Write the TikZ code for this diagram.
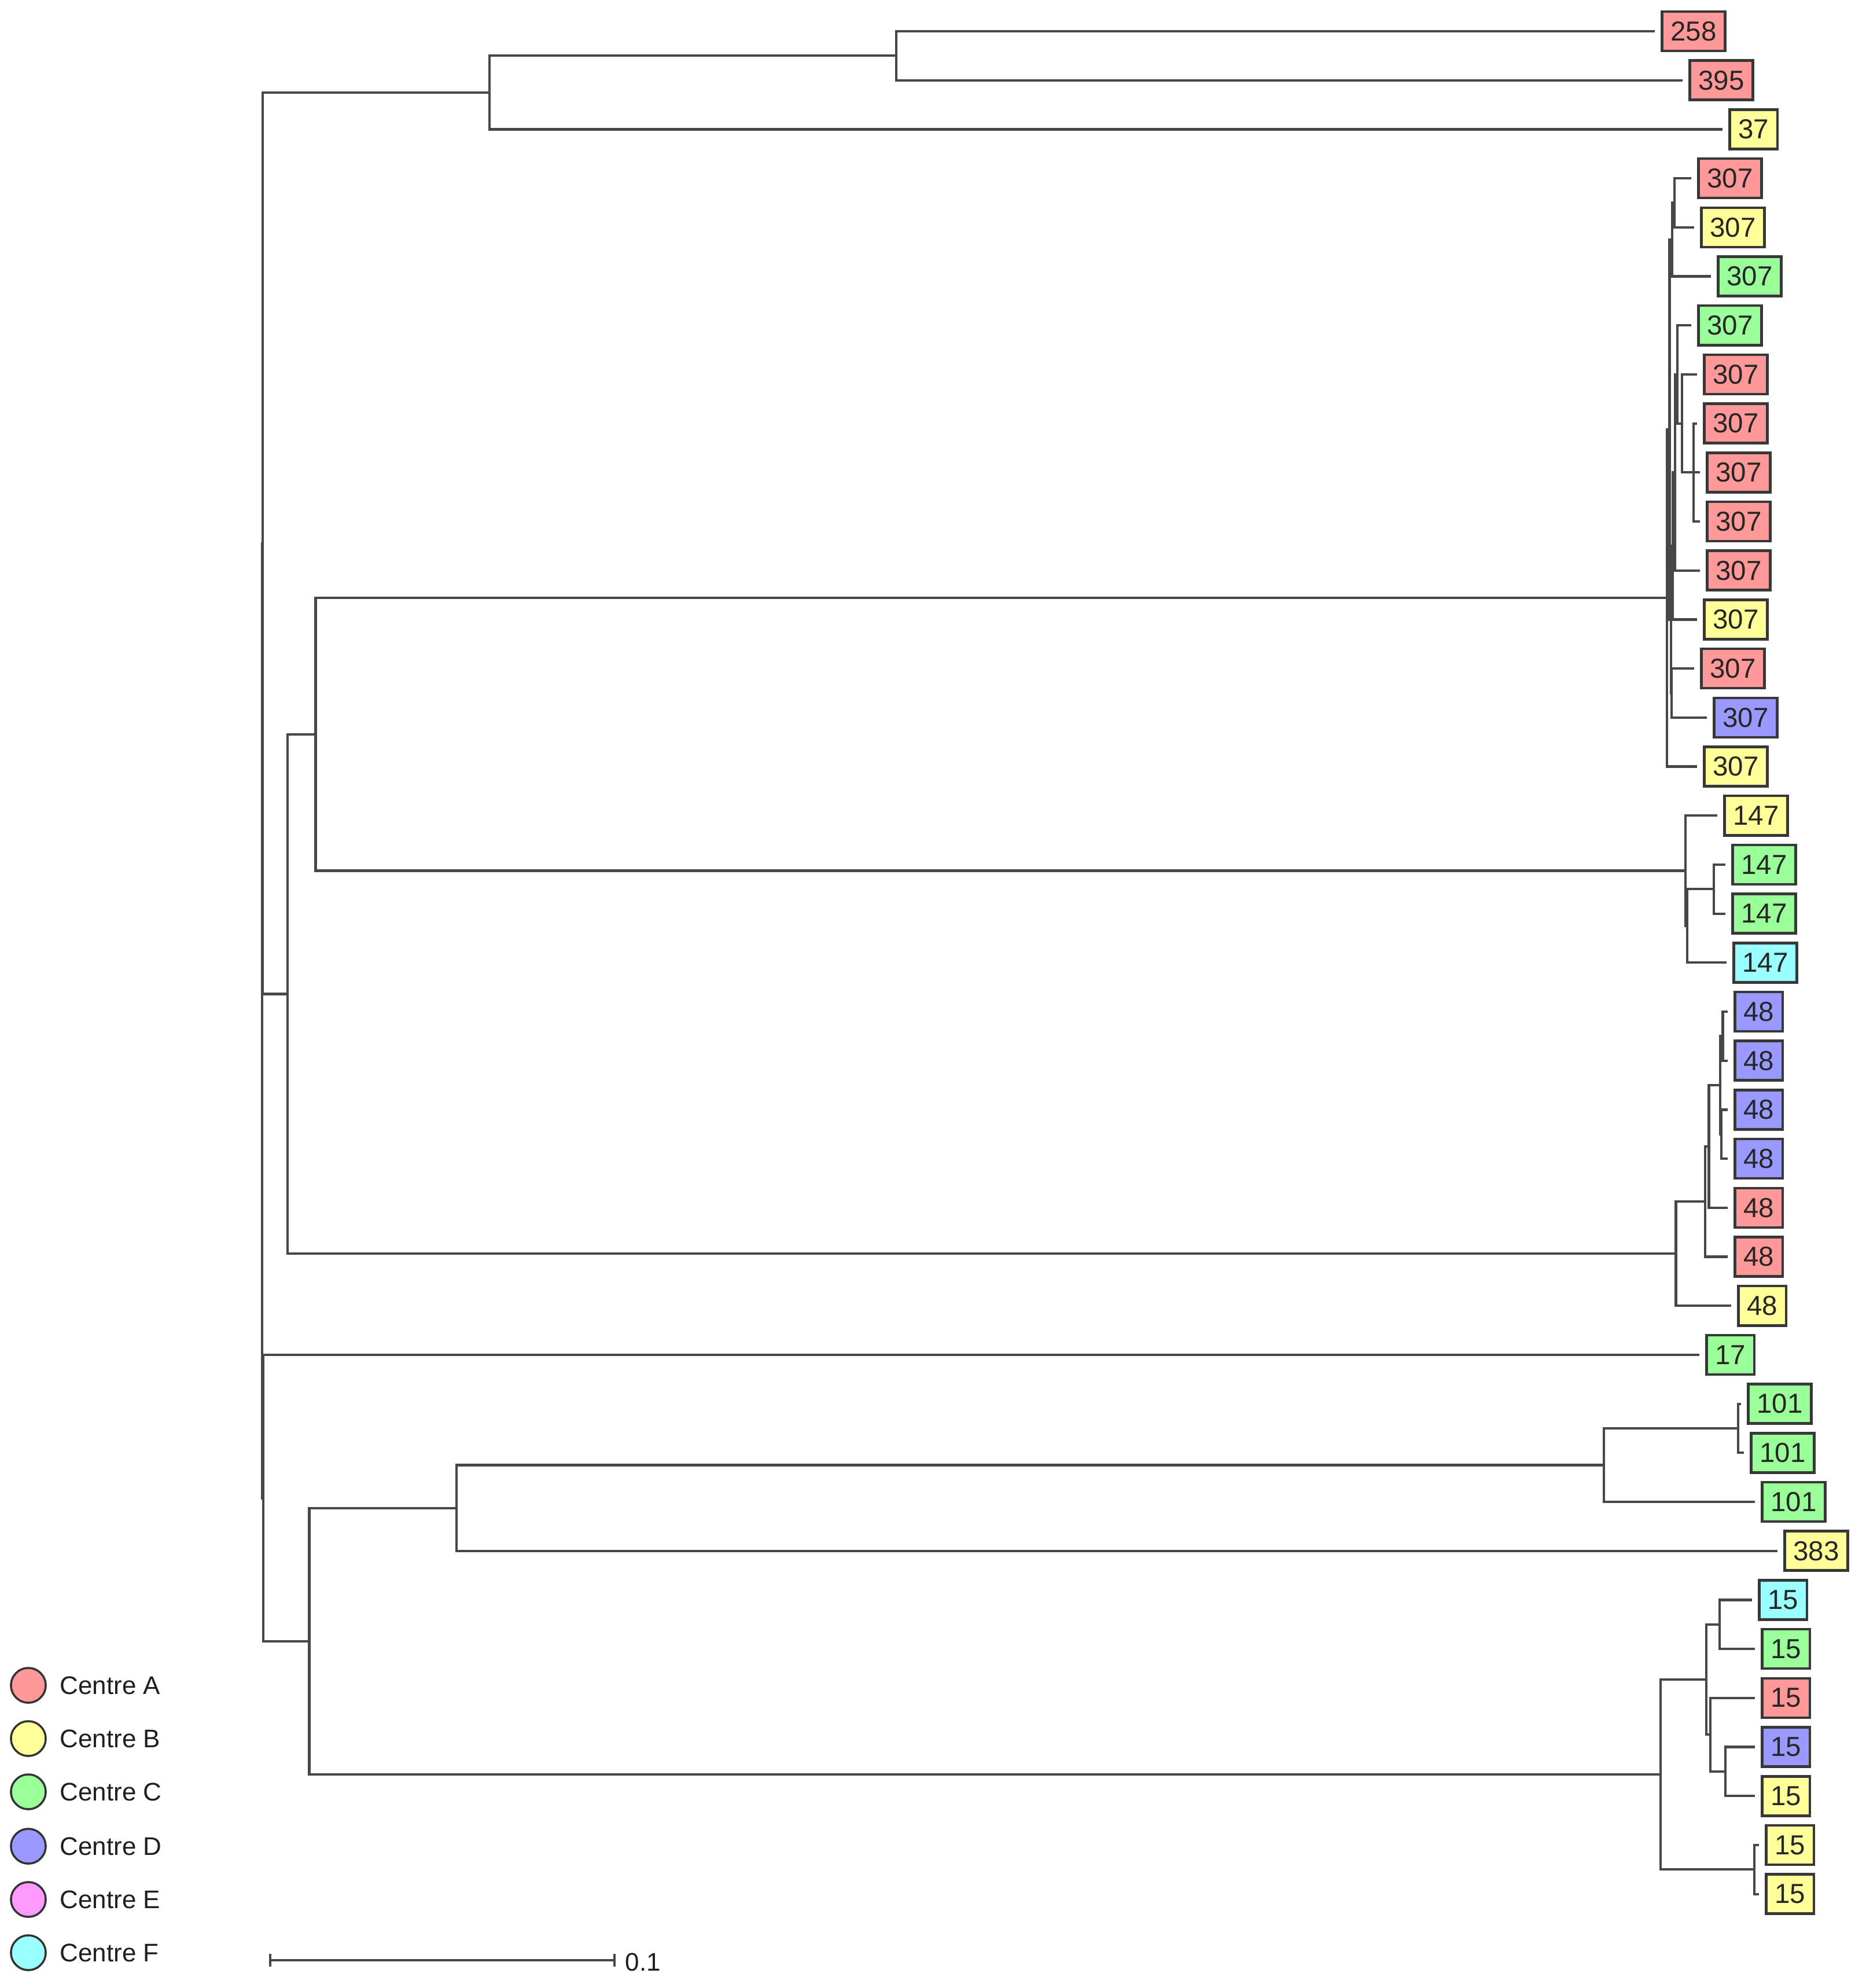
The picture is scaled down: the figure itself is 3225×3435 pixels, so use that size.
\documentclass[tikz,border=0pt]{standalone}
\usepackage{fontspec}
\setmainfont{Liberation Sans}
\definecolor{cA}{HTML}{FF9999}
\definecolor{cB}{HTML}{FFFF99}
\definecolor{cC}{HTML}{99FF99}
\definecolor{cD}{HTML}{9999FF}
\definecolor{cE}{HTML}{FF99FF}
\definecolor{cF}{HTML}{99FFFF}
\begin{document}
\begin{tikzpicture}[x=0.01cm,y=-0.01cm,
  br/.style={draw=black!72, line width=1.2pt},
  tip/.style={br, shorten >=0.1cm},
  lf/.style={draw=black!78, line width=1.3pt, anchor=west, minimum height=0.68cm,
    inner xsep=0.15cm, inner ysep=0pt, font=\fontsize{13.5}{16}\selectfont, text=black!85},
  key/.style={circle, draw=black!80, line width=1pt, minimum size=0.6cm, inner sep=0pt},
  keytxt/.style={anchor=west, inner sep=0pt, font=\fontsize{12.5}{15}\selectfont, text=black!88}]
\useasboundingbox (0,0) rectangle (3225,3435);
\fill[white] (0,0) rectangle (3225,3435);

% leaves
\node[lf, fill=cA] (l1) at (2870,54) {258};
\node[lf, fill=cA] (l2) at (2918,138.7) {395};
\node[lf, fill=cB] (l3) at (2987,223.4) {37};
\node[lf, fill=cA] (l4) at (2933,308.1) {307};
\node[lf, fill=cB] (l5) at (2938,392.8) {307};
\node[lf, fill=cC] (l6) at (2967,477.5) {307};
\node[lf, fill=cC] (l7) at (2933,562.2) {307};
\node[lf, fill=cA] (l8) at (2943,646.9) {307};
\node[lf, fill=cA] (l9) at (2943,731.6) {307};
\node[lf, fill=cA] (l10) at (2948,816.3) {307};
\node[lf, fill=cA] (l11) at (2948,901) {307};
\node[lf, fill=cA] (l12) at (2948,985.7) {307};
\node[lf, fill=cB] (l13) at (2943,1070.4) {307};
\node[lf, fill=cA] (l14) at (2938,1155.1) {307};
\node[lf, fill=cD] (l15) at (2960,1239.8) {307};
\node[lf, fill=cB] (l16) at (2943,1324.5) {307};
\node[lf, fill=cB] (l17) at (2978,1409.2) {147};
\node[lf, fill=cC] (l18) at (2992,1493.9) {147};
\node[lf, fill=cC] (l19) at (2992,1578.6) {147};
\node[lf, fill=cF] (l20) at (2994,1663.3) {147};
\node[lf, fill=cD] (l21) at (2996,1748) {48};
\node[lf, fill=cD] (l22) at (2996,1832.7) {48};
\node[lf, fill=cD] (l23) at (2996,1917.4) {48};
\node[lf, fill=cD] (l24) at (2996,2002.1) {48};
\node[lf, fill=cA] (l25) at (2996,2086.8) {48};
\node[lf, fill=cA] (l26) at (2996,2171.5) {48};
\node[lf, fill=cB] (l27) at (3002,2256.2) {48};
\node[lf, fill=cC] (l28) at (2947,2340.9) {17};
\node[lf, fill=cC] (l29) at (3019,2425.6) {101};
\node[lf, fill=cC] (l30) at (3024,2510.3) {101};
\node[lf, fill=cC] (l31) at (3043,2595) {101};
\node[lf, fill=cB] (l32) at (3082,2679.7) {383};
\node[lf, fill=cF] (l33) at (3038,2764.4) {15};
\node[lf, fill=cC] (l34) at (3043,2849.1) {15};
\node[lf, fill=cA] (l35) at (3043,2933.8) {15};
\node[lf, fill=cD] (l36) at (3043,3018.5) {15};
\node[lf, fill=cB] (l37) at (3043,3103.2) {15};
\node[lf, fill=cB] (l38) at (3050,3187.9) {15};
\node[lf, fill=cB] (l39) at (3050,3272.6) {15};

% internal nodes
\coordinate (nA1) at (1549,96.35);
\coordinate (nAa) at (846,159.9);
\coordinate (nS) at (2894,350.45);
\coordinate (nQ) at (2890,413.98);
\coordinate (nY) at (2927,816.3);
\coordinate (nX) at (2907,731.6);
\coordinate (nV) at (2899,646.9);
\coordinate (nU) at (2895,816.3);
\coordinate (nW) at (2891,943.35);
\coordinate (nT) at (2889,1197.45);
\coordinate (nR) at (2888,1070.4);
\coordinate (nP) at (2885.5,742.19);
\coordinate (nN) at (2881,1033.3);
\coordinate (nM) at (2962,1536.25);
\coordinate (nL) at (2916,1599.8);
\coordinate (nK) at (2913,1504.5);
\coordinate (nJ) at (2977.5,1790.35);
\coordinate (nI2) at (2975,1959.75);
\coordinate (nI) at (2973,1875.05);
\coordinate (nH) at (2953.5,1980.9);
\coordinate (nG) at (2947,2076.2);
\coordinate (nF) at (2896.5,2166.2);
\coordinate (nBn) at (545.5,1268.9);
\coordinate (nBm) at (497,1717.55);
\coordinate (nD3) at (3004,2467.95);
\coordinate (nD2) at (2771.6,2531.5);
\coordinate (nD1) at (788.8,2605.6);
\coordinate (nC) at (2972,2806.75);
\coordinate (nDd) at (2982,3060.85);
\coordinate (nE) at (2955.6,2997.3);
\coordinate (nAq) at (2949,2902);
\coordinate (nBq) at (3032,3230.25);
\coordinate (nFx) at (2870,3066.1);
\coordinate (nD0) at (534.6,2835.85);
\coordinate (nR0) at (454,938.7);
\coordinate (nZ2) at (455,2588.4);
\coordinate (nroot) at (453,1763.5);

% branches
\draw[br] (nroot) |- (nR0);
\draw[br] (nroot) |- (nZ2);
\draw[br] (nR0) |- (nAa);
\draw[br] (nR0) |- (nBm);
\draw[br] (nAa) |- (nA1);
\draw[tip] (nAa) |- (l3.west);
\draw[tip] (nA1) |- (l1.west);
\draw[tip] (nA1) |- (l2.west);
\draw[br] (nBm) |- (nBn);
\draw[br] (nBm) |- (nF);
\draw[br] (nBn) |- (nN);
\draw[br] (nBn) |- (nK);
\draw[br] (nN) |- (nP);
\draw[tip] (nN) |- (l16.west);
\draw[br] (nP) |- (nQ);
\draw[br] (nP) |- (nR);
\draw[br] (nQ) |- (nS);
\draw[tip] (nQ) |- (l6.west);
\draw[tip] (nS) |- (l4.west);
\draw[tip] (nS) |- (l5.west);
\draw[br] (nR) |- (nW);
\draw[br] (nR) |- (nT);
\draw[br] (nW) |- (nU);
\draw[tip] (nW) |- (l13.west);
\draw[br] (nU) |- (nV);
\draw[tip] (nU) |- (l12.west);
\draw[tip] (nV) |- (l7.west);
\draw[br] (nV) |- (nX);
\draw[tip] (nX) |- (l8.west);
\draw[br] (nX) |- (nY);
\draw[tip] (nY) |- (l9.west);
\draw[tip] (nY) |- (l10.west);
\draw[tip] (nY) |- (l11.west);
\draw[tip] (nT) |- (l14.west);
\draw[tip] (nT) |- (l15.west);
\draw[tip] (nK) |- (l17.west);
\draw[br] (nK) |- (nL);
\draw[br] (nL) |- (nM);
\draw[tip] (nL) |- (l20.west);
\draw[tip] (nM) |- (l18.west);
\draw[tip] (nM) |- (l19.west);
\draw[br] (nF) |- (nG);
\draw[tip] (nF) |- (l27.west);
\draw[br] (nG) |- (nH);
\draw[tip] (nG) |- (l26.west);
\draw[br] (nH) |- (nI);
\draw[tip] (nH) |- (l25.west);
\draw[br] (nI) |- (nJ);
\draw[br] (nI) |- (nI2);
\draw[tip] (nJ) |- (l21.west);
\draw[tip] (nJ) |- (l22.west);
\draw[tip] (nI2) |- (l23.west);
\draw[tip] (nI2) |- (l24.west);
\draw[tip] (nZ2) |- (l28.west);
\draw[br] (nZ2) |- (nD0);
\draw[br] (nD0) |- (nD1);
\draw[br] (nD0) |- (nFx);
\draw[br] (nD1) |- (nD2);
\draw[tip] (nD1) |- (l32.west);
\draw[br] (nD2) |- (nD3);
\draw[tip] (nD2) |- (l31.west);
\draw[tip] (nD3) |- (l29.west);
\draw[tip] (nD3) |- (l30.west);
\draw[br] (nFx) |- (nAq);
\draw[br] (nFx) |- (nBq);
\draw[br] (nAq) |- (nC);
\draw[br] (nAq) |- (nE);
\draw[tip] (nC) |- (l33.west);
\draw[tip] (nC) |- (l34.west);
\draw[tip] (nE) |- (l35.west);
\draw[br] (nE) |- (nDd);
\draw[tip] (nDd) |- (l36.west);
\draw[tip] (nDd) |- (l37.west);
\draw[tip] (nBq) |- (l38.west);
\draw[tip] (nBq) |- (l39.west);

% legend
\node[key, fill=cA] (kA) at (49,2912) {};
\node[key, fill=cB] (kB) at (49,3004) {};
\node[key, fill=cC] (kC) at (49,3096) {};
\node[key, fill=cD] (kD) at (49,3190) {};
\node[key, fill=cE] (kE) at (49,3282) {};
\node[key, fill=cF] (kF) at (49,3374) {};
\node[keytxt] (tA) at (103,2912) {Centre A};
\node[keytxt] (tB) at (103,3004) {Centre B};
\node[keytxt] (tC) at (103,3096) {Centre C};
\node[keytxt] (tD) at (103,3190) {Centre D};
\node[keytxt] (tE) at (103,3282) {Centre E};
\node[keytxt] (tF) at (103,3374) {Centre F};

% scale bar
\coordinate (sb1) at (467,3387);
\coordinate (sb2) at (1062,3387);
\draw[br] (sb1) -- (sb2);
\draw[br] (467,3376) -- (467,3398);
\draw[br] (1062,3376) -- (1062,3398);
\node[keytxt] (sbl) at (1080,3390) {0.1};
\end{tikzpicture}
\end{document}
